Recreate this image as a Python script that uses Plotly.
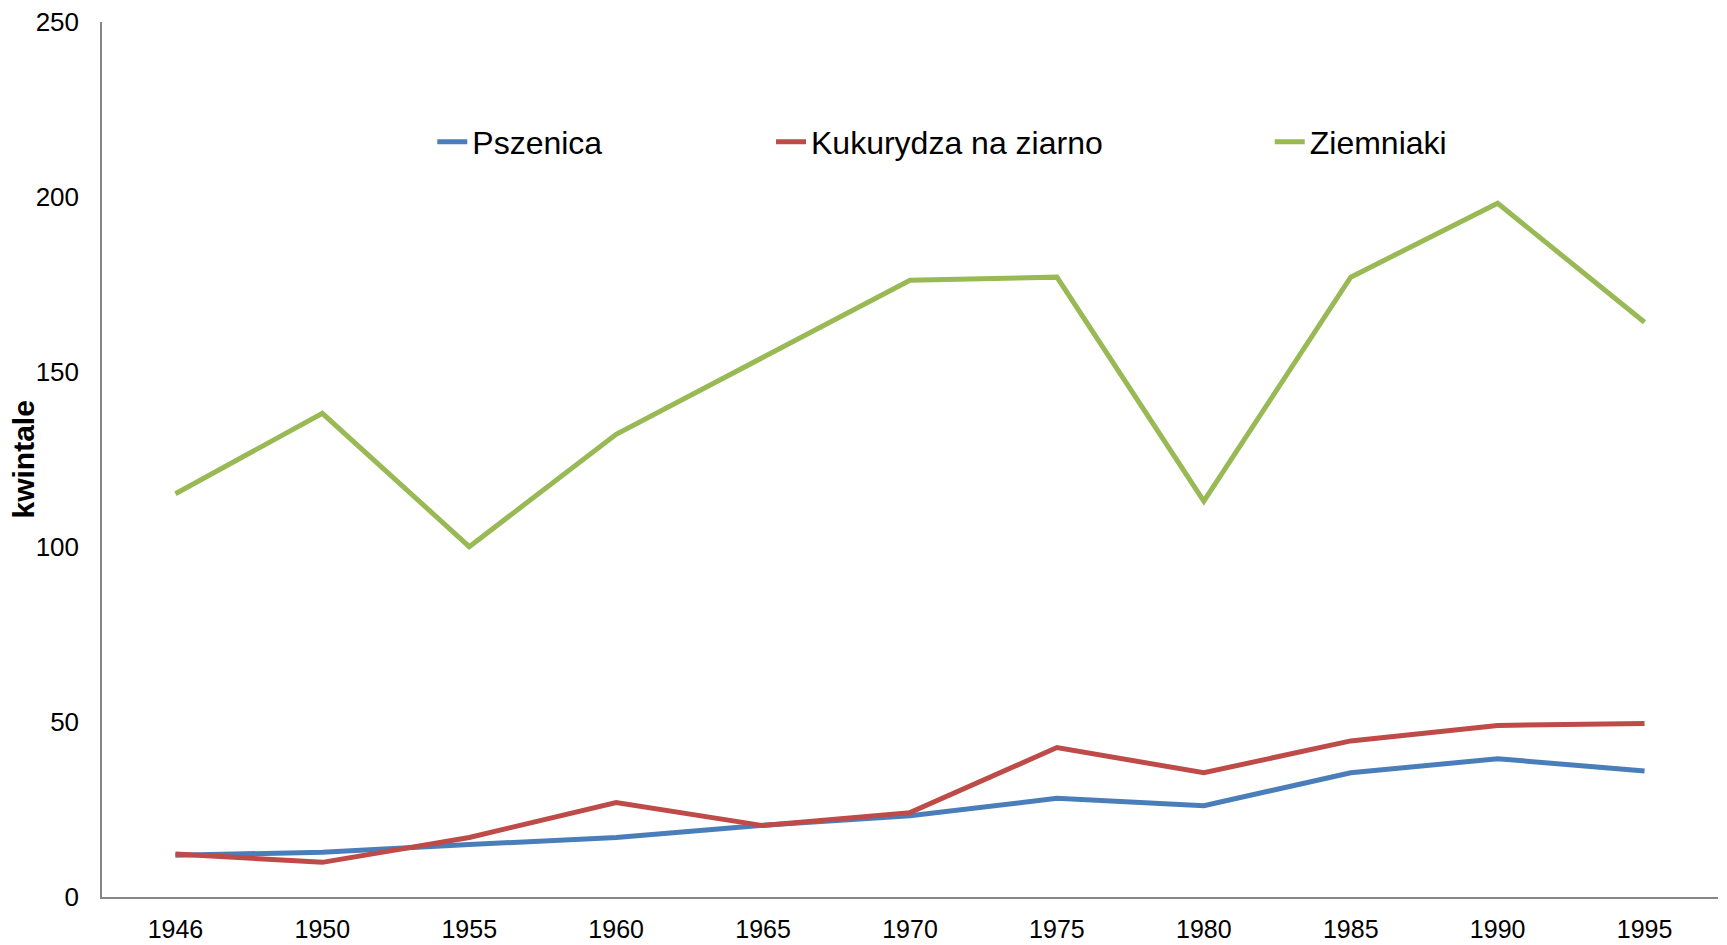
import plotly.graph_objects as go

years = ["1946", "1950", "1955", "1960", "1965", "1970", "1975", "1980", "1985", "1990", "1995"]
pszenica = [11.9, 12.8, 15.0, 17.0, 20.5, 23.2, 28.2, 26.1, 35.5, 39.5, 36.0]
kukurydza = [12.3, 9.9, 17.0, 27.0, 20.4, 24.1, 42.7, 35.5, 44.6, 49.0, 49.6]
ziemniaki = [115.2, 138.2, 100.1, 132.2, 154.2, 176.2, 177.1, 113.1, 177.1, 198.2, 164.2]
y_title = "kwintale"

series = [
    ("Pszenica", pszenica, "#4A7EBB", "legend"),
    ("Kukurydza na ziarno", kukurydza, "#BE4B48", "legend2"),
    ("Ziemniaki", ziemniaki, "#98B954", "legend3"),
]

fig = go.Figure()
for name, vals, color, leg in series:
    fig.add_trace(go.Scatter(x=years, y=vals, name=name, mode="lines", showlegend=True,
                             line=dict(color=color, width=5), legend=leg))

font = "Liberation Sans, Arial, sans-serif"
leg_common = dict(orientation="h", yanchor="middle", y=0.863, xanchor="left",
                  font=dict(family=font, size=32, color="#000000"),
                  bgcolor="rgba(0,0,0,0)", itemwidth=30)

fig.update_layout(
    width=1727, height=945,
    showlegend=True,
    margin=dict(l=102, r=9, t=22, b=48),
    paper_bgcolor="white", plot_bgcolor="white",
    font=dict(family=font, color="#000000"),
    legend=dict(x=0.2044, **leg_common),
    legend2=dict(x=0.414, **leg_common),
    legend3=dict(x=0.7226, **leg_common),
    xaxis=dict(type="category", range=[-0.5, 10.5], showgrid=False, zeroline=False,
               showline=True, linecolor="#868686", linewidth=1.5, ticks="", automargin=False,
               tickfont=dict(family=font, size=25), ticklabelstandoff=9),
    yaxis=dict(range=[0, 250], dtick=50, showgrid=False, zeroline=False, automargin=False,
               showline=True, linecolor="#868686", linewidth=1.5, ticks="",
               tickfont=dict(family=font, size=26), ticklabelstandoff=16),
    annotations=[dict(text="<b>" + y_title + "</b>", textangle=-90, xref="paper", yref="paper",
                      x=0, y=0.5, xanchor="center", yanchor="middle", xshift=-79,
                      showarrow=False, font=dict(family=font, size=30, color="#000000"))],
)

fig.write_html("out.html", config={"displayModeBar": False},
               post_script="document.body.style.margin='0';")
